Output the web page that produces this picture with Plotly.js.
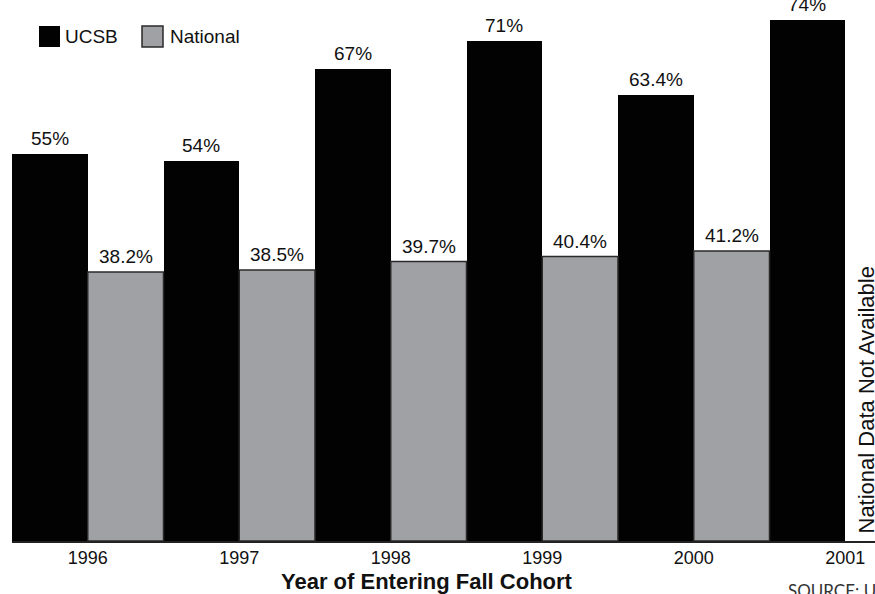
<!DOCTYPE html>
<html>
<head>
<meta charset="utf-8">
<script src="https://cdn.plot.ly/plotly-3.0.1.min.js"></script>
<style>html,body{margin:0;padding:0;background:#fff;}#chart{width:875px;height:594px;}</style>
</head>
<body>
<div id="chart"></div>
<script>
// ---- data ----
const years = [1996, 1997, 1998, 1999, 2000, 2001];
const ucsb = [55, 54, 67, 71, 63.4, 74];
const national = [38.2, 38.5, 39.7, 40.4, 41.2, null];
const seriesNames = ['UCSB', 'National'];
const xTitle = 'Year of Entering Fall Cohort';
const naNote = 'National Data Not Available';
const sourceNote = 'SOURCE: UCSB';

// ---- layout helpers ----
const W = 875, H = 594;
const M = {l: 12, r: 0, t: 0, b: 53};
const PW = W - M.l - M.r, PH = H - M.t - M.b;
const px = p => (p - M.l) / PW;          // pixel x -> paper
const py = p => (H - M.b - p) / PH;      // pixel y -> paper
const FONT = 'Liberation Sans, Arial, Helvetica, sans-serif';
const black = '#020203', gray = '#a0a1a5';

const traces = [
  {type: 'bar', name: seriesNames[0], x: years, y: ucsb,
   marker: {color: black, line: {color: black, width: 0}}, hoverinfo: 'x+y'},
  {type: 'bar', name: seriesNames[1], x: years, y: national,
   marker: {color: gray, line: {color: '#2a2a2a', width: 1.5}}, hoverinfo: 'x+y'}
];

const annotations = [];
years.forEach((yr, i) => {
  if (ucsb[i] != null) annotations.push({x: yr - 0.25, y: ucsb[i], xref: 'x', yref: 'y',
    text: ucsb[i] + '%', showarrow: false, yanchor: 'bottom', yshift: 3,
    font: {family: FONT, size: 19, color: '#111'}});
  if (national[i] != null) annotations.push({x: yr + 0.25, y: national[i], xref: 'x', yref: 'y',
    text: national[i] + '%', showarrow: false, yanchor: 'bottom', yshift: 3,
    font: {family: FONT, size: 19, color: '#111'}});
});
// axis title
annotations.push({x: px(427), y: py(581), xref: 'paper', yref: 'paper', text: '<b>' + xTitle + '</b>',
  showarrow: false, xanchor: 'center', yanchor: 'middle', font: {family: FONT, size: 22, color: '#111'}});
// not available note
annotations.push({x: px(866), y: py(536), xref: 'paper', yref: 'paper', text: naNote, textangle: -90,
  showarrow: false, xanchor: 'center', yanchor: 'bottom', font: {family: FONT, size: 22, color: '#111'}});
// source
annotations.push({x: px(786), y: py(590), xref: 'paper', yref: 'paper', text: sourceNote,
  showarrow: false, xanchor: 'left', yanchor: 'middle', font: {family: 'Lato, "Open Sans", sans-serif', size: 17, color: '#333'}});
// legend
const legendItems = [{sx: 39, tx: 63, color: black, line: black, lw: 0}, {sx: 142, tx: 168, color: gray, line: '#2a2a2a', lw: 1.5}];
const shapes = [];
legendItems.forEach((it, k) => {
  shapes.push({type: 'rect', xref: 'paper', yref: 'paper', x0: px(it.sx), x1: px(it.sx + 21), y0: py(47), y1: py(26),
    fillcolor: it.color, line: {color: it.line, width: it.lw}});
  annotations.push({x: px(it.tx), y: py(37), xref: 'paper', yref: 'paper', text: seriesNames[k], showarrow: false,
    xanchor: 'left', yanchor: 'middle', font: {family: FONT, size: 19, color: '#111'}});
});

const layout = {
  width: W, height: H, margin: M,
  paper_bgcolor: '#fff', plot_bgcolor: '#fff',
  showlegend: false,
  barmode: 'group', bargap: 0, bargroupgap: 0,
  font: {family: FONT, color: '#111'},
  xaxis: {range: [1995.5, 1995.5 + PW / 151.5], tickmode: 'array', tickvals: years, ticktext: years.map(String),
    showline: true, linecolor: '#222', linewidth: 1.5, showgrid: false, zeroline: false, ticks: '',
    tickfont: {family: FONT, size: 18, color: '#111'}, fixedrange: true},
  yaxis: {range: [0, PH / 7.04], visible: false, showgrid: false, zeroline: false, fixedrange: true},
  annotations: annotations,
  shapes: shapes
};

Plotly.newPlot('chart', traces, layout, {displayModeBar: false, staticPlot: true});
</script>
</body>
</html>
